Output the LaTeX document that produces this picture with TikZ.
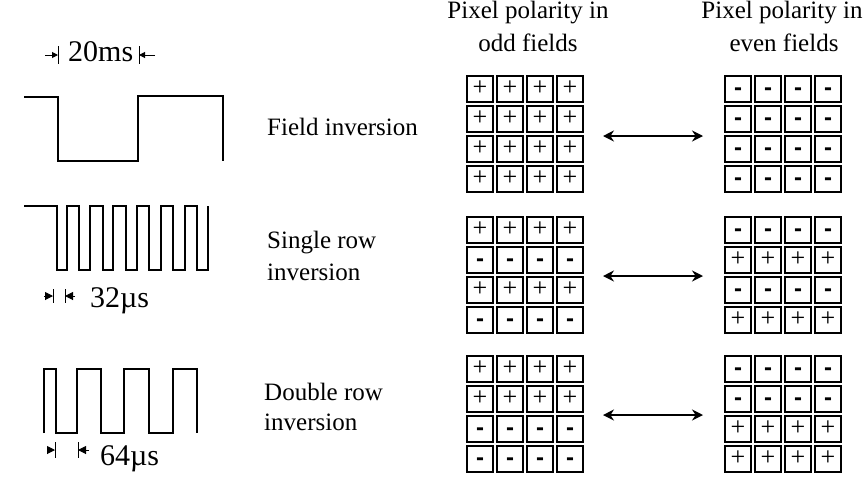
\documentclass[tikz,border=0pt]{standalone}
\usepackage{fontspec}
\setmainfont{Liberation Serif}
\newfontfamily\minusfont{Liberation Sans}
\usetikzlibrary{arrows.meta}
\begin{document}
\begin{tikzpicture}[x=1pt,y=-1pt,
  wave/.style={line width=1.4pt, line join=miter},
  lbl/.style={inner sep=0pt, anchor=base west, font=\fontsize{25}{30}\selectfont},
  hdr/.style={inner sep=0pt, anchor=base, font=\fontsize{25}{30}\selectfont},
  tlbl/.style={inner sep=0pt, anchor=base west, font=\fontsize{30}{34}\selectfont},
  cellbox/.style={draw, line width=1.5pt, minimum size=26pt, inner sep=0pt, text height=13pt, text depth=0pt},
  pcell/.style={cellbox, font=\fontsize{26}{26}\selectfont, node contents={+}},
  mcell/.style={cellbox, font=\minusfont\bfseries\fontsize{24}{24}\selectfont, node contents={-}},
  oddp/.style={pcell}, oddm/.style={mcell},
  evenp/.style={mcell}, evenm/.style={pcell},
  dbl/.style={{Stealth[length=11pt,width=11pt]}-{Stealth[length=11pt,width=11pt]}, line width=1.4pt},
  tailtip/.style={-{Triangle[length=6pt,width=6pt]}, line width=1pt},
  smalltip/.style={-{Triangle[length=8pt,width=8pt]}, line width=1pt},
  bar/.style={line width=1pt}]
\useasboundingbox (0,0) rectangle (867,480);

% headers
\node[hdr] (h1a) at (528,18) {Pixel polarity in};
\node[hdr] (h1b) at (528,51) {odd fields};
\node[hdr] (h2a) at (782,18) {Pixel polarity in};
\node[hdr] (h2b) at (784,51) {even fields};

% time marker 20ms
\node[tlbl] (t20) at (68,61) {20ms};
\coordinate (m1a) at (45,55); \coordinate (m1b) at (58,55);
\draw[tailtip] (m1a) -- (m1b);
\draw[bar] (58,46) -- (58,64);
\coordinate (m1c) at (155,55); \coordinate (m1d) at (139,55);
\draw[tailtip] (m1c) -- (m1d);
\draw[bar] (139,46) -- (139,64);

% field inversion waveform
\draw[wave] (24,97) -- (58,97) -- (58,161) -- (138,161) -- (138,96) -- (223,96) -- (223,161);

% single row waveform
\draw[wave] (24,206) -- (57,206) -- (57,270) -- (67,270) -- (67,206) -- (79,206) -- (79,270)
  -- (90,270) -- (90,206) -- (103,206) -- (103,270) -- (113,270) -- (113,206) -- (126,206)
  -- (126,270) -- (137,270) -- (137,206) -- (149,206) -- (149,270) -- (161,270) -- (161,206)
  -- (173,206) -- (173,270) -- (185,270) -- (185,206) -- (197,206) -- (197,270) -- (208,270)
  -- (208,206);

% 32us marker
\node[tlbl] (t32) at (90,307) {32µs};
\coordinate (m2a) at (44,296); \coordinate (m2b) at (53,296);
\draw[smalltip] (m2a) -- (m2b);
\draw[bar] (53,289) -- (53,303);
\coordinate (m2c) at (75,296); \coordinate (m2d) at (65,296);
\draw[smalltip] (m2c) -- (m2d);
\draw[bar] (65,289) -- (65,303);

% double row waveform
\draw[wave] (44,433) -- (44,369) -- (56,369) -- (56,433) -- (77,433) -- (77,369) -- (101,369)
  -- (101,433) -- (124,433) -- (124,369) -- (149,369) -- (149,433) -- (173,433) -- (173,369)
  -- (197,369) -- (197,433);

% 64us marker
\node[tlbl] (t64) at (100,465) {64µs};
\coordinate (m3a) at (47,450); \coordinate (m3b) at (55,450);
\draw[smalltip] (m3a) -- (m3b);
\draw[bar] (55,442) -- (55,458);
\coordinate (m3c) at (89,450); \coordinate (m3d) at (78,450);
\draw[smalltip] (m3c) -- (m3d);
\draw[bar] (78,442) -- (78,458);

% labels
\node[lbl] (l1) at (267,135) {Field inversion};
\node[lbl] (l2a) at (267,248) {Single row};
\node[lbl] (l2b) at (267,280) {inversion};
\node[lbl] (l3a) at (264,400) {Double row};
\node[lbl] (l3b) at (264,430) {inversion};

% grids
\foreach \g/\cy/\ay/\a/\b/\c/\d in {1/89/136/p/p/p/p, 2/230/276/p/m/p/m, 3/369/415/p/p/m/m}{
  \foreach \r/\s in {0/\a,1/\b,2/\c,3/\d}{
    \foreach \col in {0,1,2,3}{
      \node (o\g-\r-\col) at (480+30*\col, \cy+30*\r) [odd\s];
      \node (e\g-\r-\col) at (738+30*\col, \cy+30*\r) [even\s];
    }
  }
  \coordinate (al\g) at (603,\ay);
  \coordinate (ar\g) at (703,\ay);
  \draw[dbl] (al\g) -- (ar\g);
}
\end{tikzpicture}
\end{document}
